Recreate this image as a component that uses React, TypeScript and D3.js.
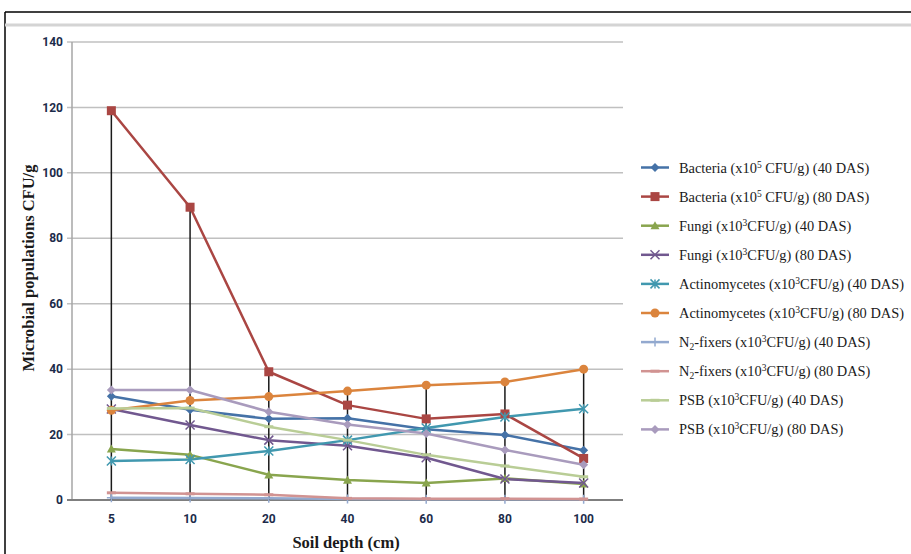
import * as d3 from 'd3'

const depths = ['5', '10', '20', '40', '60', '80', '100']
const yTicks = [0, 20, 40, 60, 80, 100, 120, 140]

const bacteria40 = [31.7, 27.6, 24.8, 25.0, 21.6, 19.9, 15.2]
const bacteria80 = [119, 89.5, 39.2, 29.0, 24.8, 26.3, 12.7]
const fungi40 = [15.6, 13.8, 7.7, 6.1, 5.2, 6.6, 4.9]
const fungi80 = [27.8, 22.9, 18.3, 16.6, 12.9, 6.4, 5.2]
const actino40 = [11.9, 12.4, 15.0, 18.3, 22.0, 25.4, 27.9]
const actino80 = [27.4, 30.4, 31.6, 33.3, 35.1, 36.1, 40.0]
const n2fix40 = [0.7, 0.6, 0.5, 0.3, 0.2, 0.2, 0.2]
const n2fix80 = [2.2, 1.9, 1.6, 0.5, 0.4, 0.4, 0.3]
const psb40 = [28.0, 28.1, 22.4, 18.3, 13.8, 10.4, 7.1]
const psb80 = [33.6, 33.6, 27.0, 23.1, 20.3, 15.3, 10.8]

type Marker = 'diamond' | 'square' | 'triangle' | 'x' | 'star' | 'circle' | 'plus' | 'dash' | 'none'

interface Series {
  name: string
  sup: string
  sub?: boolean
  das: string
  values: number[]
  color: string
  marker: Marker
}

const series: Series[] = [
  { name: 'Bacteria (x10', sup: '5', das: ' CFU/g) (40 DAS)', values: bacteria40, color: '#4572A7', marker: 'diamond' },
  { name: 'Bacteria (x10', sup: '5', das: ' CFU/g) (80 DAS)', values: bacteria80, color: '#AA4643', marker: 'square' },
  { name: 'Fungi (x10', sup: '3', das: 'CFU/g) (40 DAS)', values: fungi40, color: '#89A54E', marker: 'triangle' },
  { name: 'Fungi (x10', sup: '3', das: 'CFU/g) (80 DAS)', values: fungi80, color: '#71588F', marker: 'x' },
  { name: 'Actinomycetes (x10', sup: '3', das: 'CFU/g) (40 DAS)', values: actino40, color: '#4198AF', marker: 'star' },
  { name: 'Actinomycetes (x10', sup: '3', das: 'CFU/g) (80 DAS)', values: actino80, color: '#DB843D', marker: 'circle' },
  { name: 'N', sub: true, sup: '3', das: 'CFU/g) (40 DAS)', values: n2fix40, color: '#93A9CF', marker: 'plus' },
  { name: 'N', sub: true, sup: '3', das: 'CFU/g) (80 DAS)', values: n2fix80, color: '#D19392', marker: 'dash' },
  { name: 'PSB (x10', sup: '3', das: 'CFU/g) (40 DAS)', values: psb40, color: '#B9CD96', marker: 'dash' },
  { name: 'PSB (x10', sup: '3', das: 'CFU/g) (80 DAS)', values: psb80, color: '#A99BBD', marker: 'diamond' },
]

function MarkerShape({ kind, x, y, color }: { kind: Marker; x: number; y: number; color: string }) {
  const s = 4.5
  switch (kind) {
    case 'diamond':
      return <path d={`M${x},${y - s}L${x + s},${y}L${x},${y + s}L${x - s},${y}Z`} fill={color} />
    case 'square':
      return <rect x={x - s} y={y - s} width={2 * s} height={2 * s} fill={color} />
    case 'triangle':
      return <path d={`M${x},${y - s}L${x + s},${y + s * 0.8}L${x - s},${y + s * 0.8}Z`} fill={color} />
    case 'circle':
      return <circle cx={x} cy={y} r={s} fill={color} />
    case 'x':
      return (
        <path d={`M${x - s},${y - s}L${x + s},${y + s}M${x - s},${y + s}L${x + s},${y - s}`} stroke={color} strokeWidth={1.5} />
      )
    case 'star':
      return (
        <path
          d={`M${x - s},${y - s}L${x + s},${y + s}M${x - s},${y + s}L${x + s},${y - s}M${x},${y - s}L${x},${y + s}`}
          stroke={color}
          strokeWidth={1.5}
        />
      )
    case 'plus':
      return <path d={`M${x - s},${y}L${x + s},${y}M${x},${y - s}L${x},${y + s}`} stroke={color} strokeWidth={1.5} />
    case 'dash':
      return <path d={`M${x - s},${y}L${x + s},${y}`} stroke={color} strokeWidth={3} />
    default:
      return null
  }
}

export default function App() {
  const width = 911
  const height = 554
  const left = 72
  const right = 623
  const top = 42
  const bottom = 500

  const x = d3.scalePoint<string>().domain(depths).range([left, right]).padding(0.5)
  const y = d3.scaleLinear().domain([0, 140]).range([bottom, top])

  const line = d3
    .line<number>()
    .x((_, i) => x(depths[i]) as number)
    .y((d) => y(d))

  const maxAt = depths.map((_, i) => d3.max(series, (s) => s.values[i]) as number)

  const legendX = 641
  const legendY0 = 167.5
  const legendStep = 29.1
  const tickFont = "'Liberation Sans Narrow', 'Roboto', sans-serif"

  return (
    <svg width={width} height={height} style={{ position: 'absolute', left: 0, top: 0, background: '#fff' }}>
      {/* frame */}
      <line x1={5} x2={911} y1={12} y2={12} stroke="#000" strokeWidth={1.5} />
      <line x1={5} x2={5} y1={12} y2={554} stroke="#000" strokeWidth={1.5} />
      <line x1={5} x2={911} y1={25} y2={25} stroke="#d4d4d4" strokeWidth={3} />

      {/* grid */}
      {yTicks.map((t) => (
        <g key={t}>
          {t > 0 && <line x1={left - 5} x2={right} y1={y(t)} y2={y(t)} stroke="#c0c0c0" strokeWidth={1.5} />}
          <text
            x={left - 9}
            y={y(t)}
            dy="0.35em"
            textAnchor="end"
            fontFamily={tickFont}
            fontWeight="bold"
            fontSize={12}
            fill="#1c2b4a"
          >
            {t}
          </text>
        </g>
      ))}
      <line x1={left} x2={left} y1={top} y2={bottom} stroke="#a6a6a6" strokeWidth={1.5} />
      <line x1={left - 5} x2={right} y1={bottom} y2={bottom} stroke="#7f7f7f" strokeWidth={2} />

      {depths.map((d) => (
        <text
          key={d}
          x={x(d)}
          y={bottom + 23}
          textAnchor="middle"
          fontFamily={tickFont}
          fontWeight="bold"
          fontSize={12}
          fill="#1c2b4a"
        >
          {d}
        </text>
      ))}

      {/* series lines */}
      {series.map((s, i) => (
        <path key={i} d={line(s.values) ?? ''} fill="none" stroke={s.color} strokeWidth={2.5} strokeLinejoin="round" />
      ))}

      {/* drop lines */}
      {depths.map((d, i) => (
        <line key={d} x1={x(d)} x2={x(d)} y1={y(maxAt[i])} y2={bottom} stroke="#1a1a1a" strokeWidth={1.5} />
      ))}

      {/* markers */}
      {series.map((s, i) => (
        <g key={i}>
          {s.values.map((v, j) => (
            <MarkerShape key={j} kind={s.marker} x={x(depths[j]) as number} y={y(v)} color={s.color} />
          ))}
        </g>
      ))}

      {/* axis titles */}
      <text
        transform={`translate(34,268) rotate(-90)`}
        textAnchor="middle"
        fontFamily="'Liberation Serif', serif"
        fontWeight="bold"
        fontSize={16.5}
        fill="#1a1a1a"
      >
        Microbial populations CFU/g
      </text>
      <text
        x={346}
        y={548}
        textAnchor="middle"
        fontFamily="'Liberation Serif', serif"
        fontWeight="bold"
        fontSize={16.5}
        fill="#1a1a1a"
      >
        Soil depth (cm)
      </text>

      {/* legend */}
      {series.map((s, i) => {
        const ly = legendY0 + i * legendStep
        return (
          <g key={i}>
            <line x1={legendX} x2={legendX + 28} y1={ly} y2={ly} stroke={s.color} strokeWidth={2.5} />
            <MarkerShape kind={s.marker} x={legendX + 14} y={ly} color={s.color} />
            <text x={legendX + 38} y={ly} dy="0.35em" fontFamily="'Liberation Serif', serif" fontSize={14.4} fill="#1a1a1a">
              {s.sub ? (
                <>
                  N
                  <tspan fontSize={9.5} dy={3}>
                    2
                  </tspan>
                  <tspan dy={-3}>-fixers (x10</tspan>
                </>
              ) : (
                s.name
              )}
              <tspan fontSize={9.5} dy={-5}>
                {s.sup}
              </tspan>
              <tspan dy={5}>{s.das}</tspan>
            </text>
          </g>
        )
      })}
    </svg>
  )
}
